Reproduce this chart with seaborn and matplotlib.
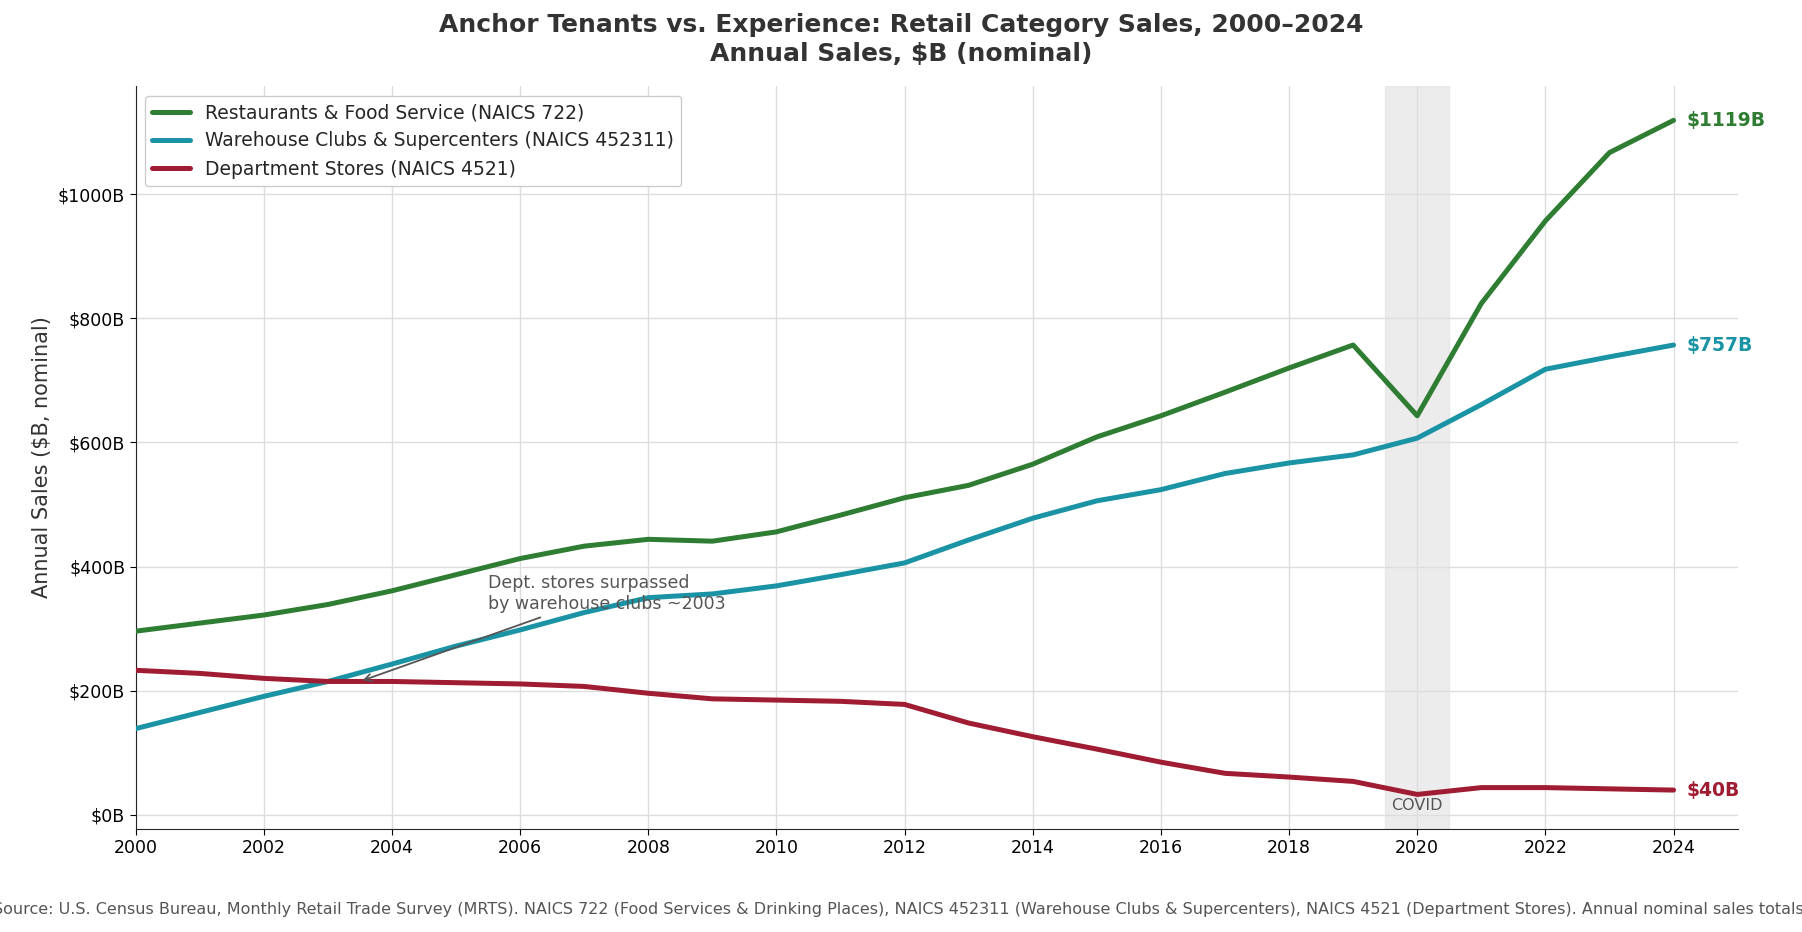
import matplotlib
matplotlib.use("Agg")
import matplotlib.pyplot as plt
import seaborn as sns
import pandas as pd

years = list(range(2000, 2025))
restaurants = [296, 309, 322, 339, 361, 387, 413, 433, 444, 441, 456, 483, 511, 531, 565, 609, 643, 681, 720, 757, 643, 824, 957, 1067, 1119]
warehouse = [139, 165, 191, 215, 243, 272, 298, 326, 350, 356, 369, 387, 406, 443, 478, 506, 524, 550, 567, 580, 607, 661, 718, 738, 757]
dept = [233, 228, 220, 215, 215, 213, 211, 207, 196, 187, 185, 183, 178, 148, 126, 106, 85, 67, 61, 54, 33, 44, 44, 42, 40]
names = ["Restaurants & Food Service (NAICS 722)", "Warehouse Clubs & Supercenters (NAICS 452311)", "Department Stores (NAICS 4521)"]
colors = ["#2e7d32", "#1a93a5", "#a01c32"]

df = pd.concat([pd.DataFrame({"Year": years, "Sales": v, "Series": n}) for v, n in zip([restaurants, warehouse, dept], names)])

W, H = 1568, 811
sns.set_style("white")
fig = plt.figure(figsize=(18.02, 9.32), dpi=100)
ax = fig.add_axes([118/W, 1-721/H, (1512-118)/W, (721-75)/H])
ax.axvspan(2019.5, 2020.5, color="#e0e0e0", alpha=0.6, zorder=0)
sns.lineplot(data=df, x="Year", y="Sales", hue="Series", palette=colors, linewidth=3.6, ax=ax, zorder=3)
ax.set_xlim(2000, 2025)
ax.set_ylim(-22, 1174)
ax.set_xticks(range(2000, 2025, 2))
ax.set_yticks(range(0, 1001, 200))
ax.set_yticklabels([f"${v}B" for v in range(0, 1001, 200)])
ax.grid(True, color="#dddddd", linewidth=1)
ax.set_axisbelow(True)
for s in ["top", "right"]:
    ax.spines[s].set_visible(False)
ax.tick_params(labelsize=12.5, left=True, bottom=True, length=4, colors="black")
ax.set_xlabel("")
ax.set_ylabel("Annual Sales ($B, nominal)", fontsize=15, color="#333333")
ax.legend(loc="upper left", fontsize=13.5, title=None, framealpha=1)
for v, c in zip([restaurants, warehouse, dept], colors):
    ax.text(2024.2, v[-1], f"${v[-1]}B", color=c, fontsize=13.5, fontweight="bold", va="center")
ax.text(2020, 15, "COVID", ha="center", va="center", fontsize=11.5, color="#555555")
ax.annotate("Dept. stores surpassed\nby warehouse clubs ~2003", xy=(2003.5, 215), xytext=(2005.5, 325),
            fontsize=12.5, color="#555555", arrowprops=dict(arrowstyle="->", color="#555555", lw=1.3),
            va="bottom")
fig.text(0.5, 1-22/H, "Anchor Tenants vs. Experience: Retail Category Sales, 2000–2024", ha="center", va="center",
         fontsize=18, fontweight="bold", color="#333333")
fig.text(0.5, 1-47/H, "Annual Sales, $B (nominal)", ha="center", va="center",
         fontsize=18, fontweight="bold", color="#333333")
fig.text(0.5, 1-791/H, "Source: U.S. Census Bureau, Monthly Retail Trade Survey (MRTS). NAICS 722 (Food Services & Drinking Places), NAICS 452311 (Warehouse Clubs & Supercenters), NAICS 4521 (Department Stores). Annual nominal sales totals.",
         ha="center", va="center", fontsize=11.5, color="#555555")
fig.savefig("out.png", dpi=100)
